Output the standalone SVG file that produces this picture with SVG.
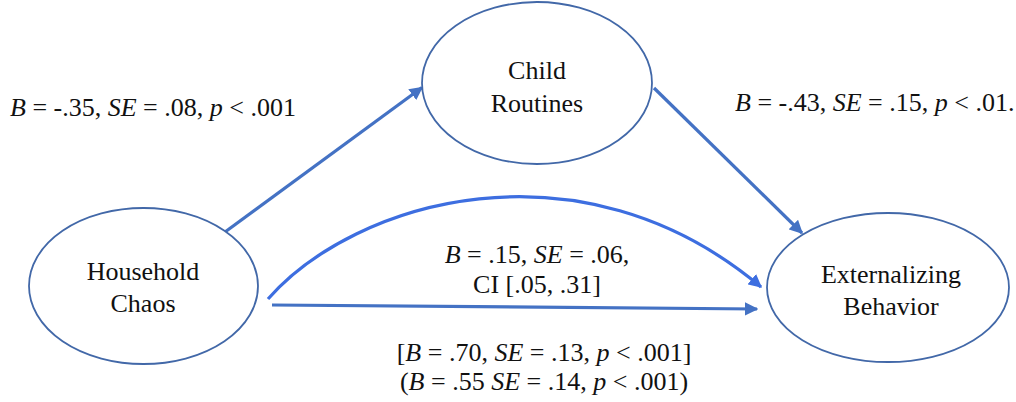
<svg xmlns="http://www.w3.org/2000/svg" width="1016" height="402" viewBox="0 0 1016 402">
<defs>
<style>
.node ellipse{fill:#ffffff;stroke:#4268A8;stroke-width:1.8}
.t{font-size:26px;fill:#111;text-anchor:middle}
.lbl{font-size:26px;fill:#111}
.c{fill:none;stroke:#4472C4;stroke-width:3.2}
.cb{fill:none;stroke:#3D6EE0;stroke-width:3.2}
</style>
<marker id="ah" viewBox="0 0 10 10" refX="9" refY="5" markerWidth="4.2" markerHeight="4.2" orient="auto" markerUnits="strokeWidth">
<path d="M0,0 L10,5 L0,10 z" fill="#4472C4"/>
</marker>
<marker id="ahb" viewBox="0 0 10 10" refX="9" refY="5" markerWidth="4.2" markerHeight="4.2" orient="auto" markerUnits="strokeWidth">
<path d="M0,0 L10,5 L0,10 z" fill="#3D6EE0"/>
</marker>
</defs>
<rect width="1016" height="402" fill="#ffffff"/>
<g id="connectors">
<line class="c" x1="225" y1="232" x2="422" y2="87.5" marker-end="url(#ah)"/>
<line class="c" x1="654" y1="88" x2="802" y2="233" marker-end="url(#ah)"/>
<path class="cb" d="M268,299 C355,200 580,135 761,287" marker-end="url(#ahb)"/>
<line class="c" x1="272" y1="305" x2="757" y2="309" marker-end="url(#ah)"/>
</g>
<g font-family="'Liberation Serif', 'DejaVu Serif', 'Times New Roman', serif">
<g id="child-routines" class="node">
<ellipse cx="537" cy="83" rx="115" ry="81"/>
<text class="t" x="537" y="79">Child</text>
<text class="t" x="537" y="112">Routines</text>
</g>
<g id="household-chaos" class="node">
<ellipse cx="143.5" cy="286" rx="114.5" ry="78"/>
<text class="t" x="143" y="280">Household</text>
<text class="t" x="143" y="312">Chaos</text>
</g>
<g id="externalizing-behavior" class="node">
<ellipse cx="888" cy="287.5" rx="121" ry="74.5"/>
<text class="t" x="891" y="283">Externalizing</text>
<text class="t" x="891" y="315">Behavior</text>
</g>
<g id="labels">
<text class="lbl" x="10" y="116"><tspan font-style="italic">B</tspan> = -.35, <tspan font-style="italic">SE</tspan> = .08, <tspan font-style="italic">p</tspan> &lt; .001</text>
<text class="lbl" x="735" y="111"><tspan font-style="italic">B</tspan> = -.43, <tspan font-style="italic">SE</tspan> = .15, <tspan font-style="italic">p</tspan> &lt; .01.</text>
<text class="t" x="537" y="263"><tspan font-style="italic">B</tspan> = .15, <tspan font-style="italic">SE</tspan> = .06,</text>
<text class="t" x="537" y="293">CI [.05, .31]</text>
<text class="t" x="544" y="361">[<tspan font-style="italic">B</tspan> = .70, <tspan font-style="italic">SE</tspan> = .13, <tspan font-style="italic">p</tspan> &lt; .001]</text>
<text class="t" x="544" y="390">(<tspan font-style="italic">B</tspan> = .55 <tspan font-style="italic">SE</tspan> = .14, <tspan font-style="italic">p</tspan> &lt; .001)</text>
</g>
</g>
</svg>
